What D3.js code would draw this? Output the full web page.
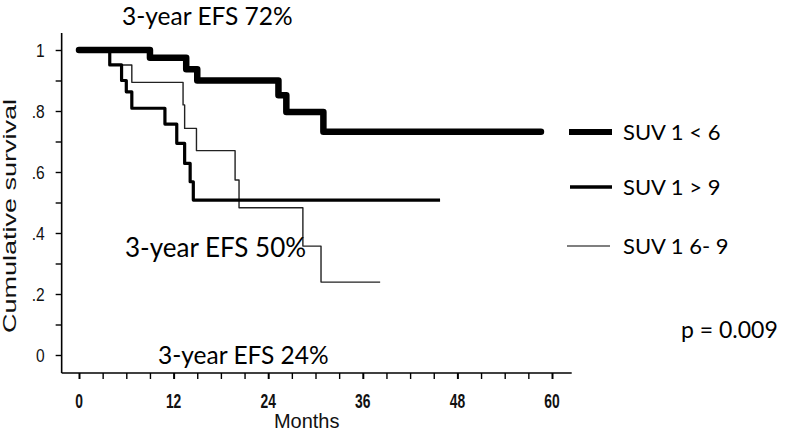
<!DOCTYPE html>
<html><head><meta charset="utf-8">
<script src="https://cdn.jsdelivr.net/npm/d3@7"></script>
<style>body{margin:0;background:#fff}svg{display:block}</style>
</head><body>
<svg id="c" width="788" height="432"></svg>
<script>
// ---- data ----
const xTicks = [0, 12, 24, 36, 48, 60];
const xMinorTicks = d3.range(0, 61, 3);
const yTicks = [0, 0.2, 0.4, 0.6, 0.8, 1];
const yTickLabels = ["0", ".2", ".4", ".6", ".8", "1"];
const yMinorTicks = d3.range(0, 11).map(i => i / 10);
const seriesNames = ["SUV 1 < 6", "SUV 1 > 9", "SUV 1 6- 9"];
const lowTimes = [0, 9, 13.6, 15, 25.3, 26.3, 31, 58.6];
const lowSurv  = [1, 0.975, 0.937, 0.90, 0.852, 0.797, 0.732, 0.732];
const highTimes = [0, 3.9, 5.4, 6.0, 6.7, 10.9, 12.4, 13.4, 14.1, 14.5, 45.8];
const highSurv  = [1, 0.951, 0.90, 0.863, 0.809, 0.757, 0.694, 0.628, 0.568, 0.508, 0.508];
const midTimes = [0, 3.9, 6.7, 13.2, 13.4, 14.9, 19.8, 20.3, 28.4, 30.7, 38.2];
const midSurv  = [1, 0.951, 0.894, 0.82, 0.743, 0.67, 0.574, 0.483, 0.357, 0.239, 0.239];
const annotations = ["3-year EFS 72%", "3-year EFS 50%", "3-year EFS 24%"];
const pText = "p = 0.009";
const xTitle = "Months", yTitle = "Cumulative survival";

// ---- scales ----
const x = d3.scaleLinear().domain([0, 60]).range([79, 552]);
const y = d3.scaleLinear().domain([0, 1]).range([355, 50]);
const svg = d3.select("#c");
const axisFont = "'Liberation Sans', Arial, sans-serif";
const annFont = "Lato, 'Open Sans', sans-serif";

// axis lines
const xDom = [-2.2, 62.5], yDom = [-0.059, 1.056];
svg.append("line").attr("x1", x(xDom[0])).attr("x2", x(xDom[1]))
  .attr("y1", y(yDom[0])).attr("y2", y(yDom[0])).attr("stroke", "#000").attr("stroke-width", 1.6);
svg.append("line").attr("x1", x(xDom[0])).attr("x2", x(xDom[0]))
  .attr("y1", y(yDom[0])).attr("y2", y(yDom[1])).attr("stroke", "#000").attr("stroke-width", 1.6);

// x ticks
const gx = svg.append("g").attr("transform", `translate(0,${y(yDom[0])})`)
  .call(d3.axisBottom(x).tickValues(xMinorTicks).tickSize(6).tickFormat(""));
gx.select(".domain").remove();
gx.selectAll(".tick line").attr("stroke", "#000")
  .attr("stroke-width", d => xTicks.includes(d) ? 2 : 1.4);
xTicks.forEach(t => {
  svg.append("text").text(t)
    .attr("transform", `translate(${x(t)},${y(yDom[0]) + 35}) scale(0.66,1)`)
    .attr("text-anchor", "middle").attr("font-family", axisFont)
    .attr("font-weight", "bold").attr("font-size", 21).attr("fill", "#111");
});

// y ticks
const gy = svg.append("g").attr("transform", `translate(${x(xDom[0])},0)`)
  .call(d3.axisLeft(y).tickValues(yMinorTicks).tickSize(6).tickFormat(""));
gy.select(".domain").remove();
gy.selectAll(".tick line").attr("stroke", "#000").attr("stroke-width", 1.4);
yTicks.forEach((t, i) => {
  svg.append("text").text(yTickLabels[i])
    .attr("transform", `translate(${x(xDom[0]) - 17},${y(t) + 7}) scale(0.82,1)`)
    .attr("text-anchor", "end").attr("font-family", axisFont)
    .attr("font-size", 19).attr("fill", "#111");
});

// axis titles
svg.append("text").text(xTitle)
  .attr("transform", `translate(${(x(xDom[0]) + x(xDom[1])) / 2 - 10},428)`)
  .attr("text-anchor", "middle").attr("font-family", axisFont).attr("font-size", 20).attr("fill", "#111");
svg.append("text").text(yTitle)
  .attr("transform", `translate(16,216) rotate(-90) scale(1.5,1)`)
  .attr("text-anchor", "middle").attr("font-family", axisFont).attr("font-size", 18).attr("fill", "#111");

// curves
const step = d3.line().x(d => x(d[0])).y(d => y(d[1])).curve(d3.curveStepAfter);
const series = [
  {t: midTimes, s: midSurv, w: 1.4, c: "#222"},
  {t: highTimes, s: highSurv, w: 3.2, c: "#000"},
  {t: lowTimes, s: lowSurv, w: 6.5, c: "#000"}
];
series.forEach(sr => {
  svg.append("path").datum(sr.t.map((t, i) => [t, sr.s[i]]))
    .attr("d", step).attr("fill", "none").attr("stroke", sr.c)
    .attr("stroke-width", sr.w).attr("stroke-linejoin", "round")
    .attr("stroke-linecap", sr.w > 5 ? "round" : "butt");
});

// legend
const legRows = [
  {name: seriesNames[0], y: 132, w: 6, c: "#000", x1: 569, x2: 612},
  {name: seriesNames[1], y: 187, w: 3.4, c: "#000", x1: 570, x2: 612},
  {name: seriesNames[2], y: 246, w: 1.4, c: "#555", x1: 567, x2: 610}
];
legRows.forEach(r => {
  svg.append("line").attr("x1", r.x1).attr("x2", r.x2).attr("y1", r.y).attr("y2", r.y)
    .attr("stroke", r.c).attr("stroke-width", r.w);
  svg.append("text").text(r.name).attr("x", 623).attr("y", r.y + 8)
    .attr("font-family", annFont).attr("font-size", 22).attr("fill", "#000");
});

// annotations
const annPos = [[122, 25, 24.5], [125, 257, 26], [158, 364, 24.5]];
annotations.forEach((a, i) => {
  svg.append("text").text(a).attr("x", annPos[i][0]).attr("y", annPos[i][1])
    .attr("font-family", annFont).attr("font-size", annPos[i][2]).attr("fill", "#000");
});
svg.append("text").text(pText).attr("x", 681).attr("y", 338)
  .attr("font-family", annFont).attr("font-size", 23).attr("fill", "#000");
</script>
</body></html>
